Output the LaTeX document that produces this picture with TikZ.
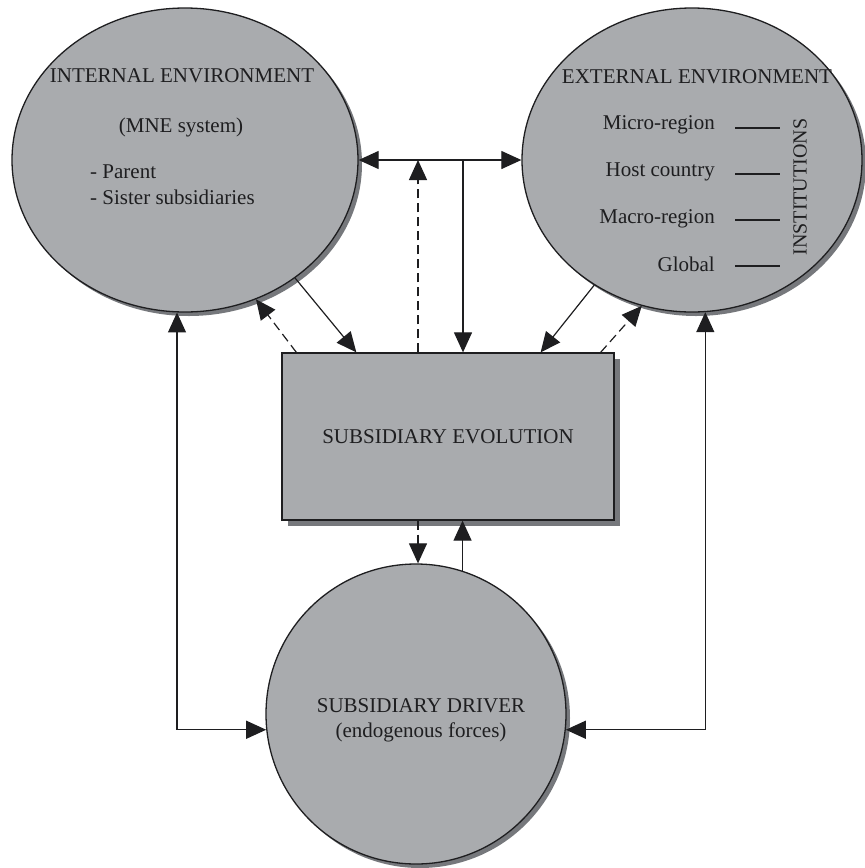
\documentclass[tikz,border=0pt]{standalone}
\usepackage{fontspec}
\setmainfont{Liberation Serif}
\usetikzlibrary{shapes.geometric,arrows.meta,shadows,calc}
\definecolor{fillgray}{RGB}{169,171,174}
\definecolor{shadowgray}{RGB}{118,120,124}
\definecolor{ink}{RGB}{30,30,32}
\begin{document}
\begin{tikzpicture}[x=1pt,y=-1pt,
  every node/.style={font=\fontsize{21}{25}\selectfont, text=ink},
  blobbase/.style={draw=ink, line width=1.3pt, fill=fillgray, inner sep=0pt},
  blob/.style={blobbase, drop shadow={shadow xshift=4pt, shadow yshift=-4pt, fill=shadowgray, opacity=1}},
  env/.style={blob, ellipse, minimum width=#1, minimum height=304pt},
  conn/.style={draw=ink, line width=1.2pt, -{Triangle[length=20pt,width=18pt]}},
  biconn/.style={draw=ink, line width=1.2pt, {Triangle[length=20pt,width=18pt]}-{Triangle[length=20pt,width=18pt]}},
  dashconn/.style={conn, dash pattern=on 9pt off 5pt},
  txt/.style={inner sep=0pt},
  tick/.style={draw=ink, line width=1.1pt}]
\useasboundingbox (0,0) rectangle (865,868);
\fill[white] (0,0) rectangle (865,868);

% shapes
\node[env=346pt] (L) at (185,160) {};
\node[env=340pt] (R) at (692,160) {};
\node[blobbase, rectangle, minimum width=332pt, minimum height=167pt,
      drop shadow={shadow xshift=6pt, shadow yshift=-6pt, fill=shadowgray, opacity=1}] (B) at (448,436.5) {SUBSIDIARY EVOLUTION};
\node[blob, circle, minimum size=300pt] (D) at (416,714) {};

% texts
\node[txt] (Lt) at (182,76) {INTERNAL ENVIRONMENT};
\node[txt] (Ls) at (181,127) {(MNE system)};
\node[txt, anchor=base west] (Lp) at (90,178) {- Parent};
\node[txt, anchor=base west] (Lq) at (90,204) {- Sister subsidiaries};

\node[txt] (Rt) at (697,77) {EXTERNAL ENVIRONMENT};
\node[txt, anchor=base east] (r1) at (715,129) {Micro-region};
\node[txt, anchor=base east] (r2) at (715,176) {Host country};
\node[txt, anchor=base east] (r3) at (715,223) {Macro-region};
\node[txt, anchor=base east] (r4) at (715,271.5) {Global};
\draw[tick] (735,128) -- (780,128);
\draw[tick] (735,174) -- (780,174);
\draw[tick] (735,220) -- (780,220);
\draw[tick] (735,266) -- (780,266);
\node[txt, rotate=90, font=\fontsize{20}{24}\selectfont] (inst) at (800,187) {INSTITUTIONS};

\node[txt, align=center] (Dt) at (421,720) {SUBSIDIARY DRIVER\\(endogenous forces)};

% connectors
\draw[biconn] (L.east) -- (R.west);
\coordinate (bt1) at ([xshift=-30pt]B.north);
\coordinate (bt2) at ([xshift=15pt]B.north);
\draw[dashconn] (bt1) -- (bt1 |- L.east);
\draw[conn] (bt2 |- L.east) -- (bt2);
\draw[conn] (L.-47) -- ([xshift=75pt]B.north west);
\draw[dashconn] ([xshift=15pt]B.north west) -- (L.-63);
\draw[conn] (R.-128) -- ([xshift=-74pt]B.north east);
\draw[dashconn] ([xshift=-14pt]B.north east) -- (R.-109);
\coordinate (bb1) at ([xshift=-30pt]B.south);
\draw[dashconn] (bb1) -- (bb1 |- D.north);
\draw[conn] (D.72) -- (D.72 |- B.south);
\draw[biconn] (L.-93) |- (D.186.5);
\draw[biconn] (R.-85) |- (D.-6.5);
\end{tikzpicture}
\end{document}
